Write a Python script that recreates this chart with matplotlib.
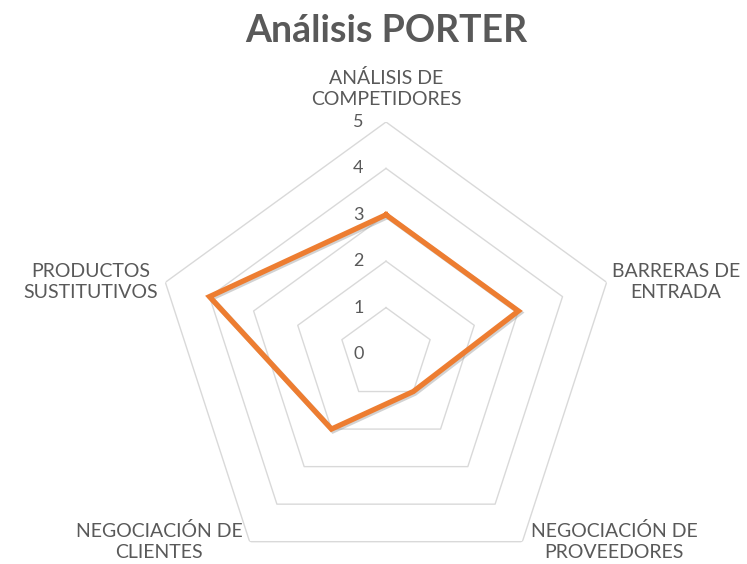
import matplotlib
matplotlib.use("Agg")
import matplotlib.pyplot as plt
import matplotlib.patheffects as pe
import numpy as np

# Data.
categories = [
    "ANÁLISIS DE\nCOMPETIDORES",
    "BARRERAS DE\nENTRADA",
    "NEGOCIACIÓN DE\nPROVEEDORES",
    "NEGOCIACIÓN DE\nCLIENTES",
    "PRODUCTOS\nSUSTITUTIVOS",
]
values = [3, 3, 1, 2, 4]
ring_levels = [1, 2, 3, 4, 5]
tick_labels = ["0", "1", "2", "3", "4", "5"]

TEXT = "#595959"
GRID = "#D9D9D9"
ORANGE = "#ED7D31"

plt.rcParams["font.family"] = ["Lato", "DejaVu Sans"]

fig = plt.figure(figsize=(7.47, 5.64), dpi=100)
fig.patch.set_facecolor("white")

# Centre (386, 354) px, radius 232 px.
cx, cy, rad = 386, 354, 232
W, H = 747, 564
ax = fig.add_axes([(cx - rad) / W, (H - cy - rad) / H, 2 * rad / W, 2 * rad / H],
                  projection="polar")
ax.set_theta_offset(np.pi / 2)
ax.set_theta_direction(-1)
ax.set_ylim(0, 5)
ax.set_xticks([])
ax.set_yticks([])
ax.grid(False)
ax.spines["polar"].set_visible(False)
ax.patch.set_alpha(0)

n = len(categories)
angles = np.linspace(0, 2 * np.pi, n, endpoint=False)
closed = np.concatenate([angles, angles[:1]])

# Pentagon gridlines.
for lvl in ring_levels:
    ax.plot(closed, [lvl] * (n + 1), color=GRID, lw=1.0, zorder=1)

# Data series.
vals = values + values[:1]
ax.plot(closed, vals, color=ORANGE, lw=3.8, solid_joinstyle="miter", zorder=3,
        path_effects=[pe.SimpleLineShadow(offset=(1.2, -1.2), shadow_color="gray", alpha=0.35),
                      pe.Normal()])

# Radial tick labels to the left of the top spoke.
for i, lab in enumerate(tick_labels):
    ax.annotate(lab, xy=(0, i), xytext=(-20, 0), textcoords="offset points",
                ha="center", va="center", fontsize=13, color=TEXT, zorder=4)

# Category labels.
placements = [
    dict(xytext=(0, 10), ha="center", va="bottom"),
    dict(xytext=(3.5, 0), ha="left", va="center"),
    dict(xytext=(6, 0), ha="left", va="center"),
    dict(xytext=(-5, 0), ha="right", va="center"),
    dict(xytext=(-5, 0), ha="right", va="center"),
]
for ang, lab, pl in zip(angles, categories, placements):
    ax.annotate(lab, xy=(ang, 5), textcoords="offset points", multialignment="center",
                fontsize=14, color=TEXT, linespacing=1.3, annotation_clip=False, **pl)

fig.text(386 / W, 1 - 31 / H, "Análisis PORTER", ha="center", va="center",
         fontsize=27, fontweight="bold", color=TEXT)

fig.savefig("out.png", dpi=100, facecolor="white")
